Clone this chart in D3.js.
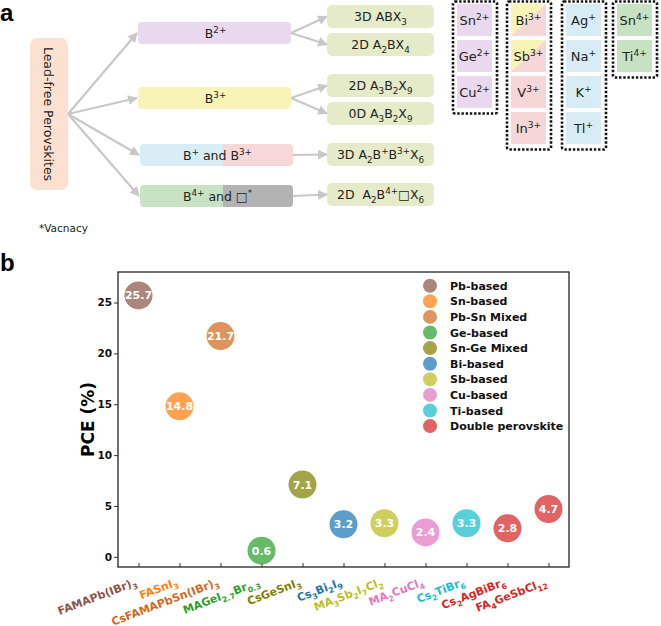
<!DOCTYPE html>
<html>
<head>
<meta charset="utf-8">
<script src="https://cdn.jsdelivr.net/npm/d3@7"></script>
<style>
  body { margin: 0; background: #fff; }
  svg { display: block; font-family: "DejaVu Sans", sans-serif; }
  text { white-space: pre; }
</style>
</head>
<body>
<svg id="fig" width="661" height="626"></svg>
<script>
// ---- panel a : classification of lead-free perovskites ----
const rootLabel = "Lead-free Perovskites";
const classNodes = ["B^{2+}", "B^{3+}", "B^{+} and B^{3+}", "B^{4+} and \u25A1^{*}"];
const structNodes = ["3D ABX_{3}", "2D A_{2}BX_{4}", "2D A_{3}B_{2}X_{9}", "0D A_{3}B_{2}X_{9}",
                     "3D A_{2}B^{+}B^{3+}X_{6}", "2D  A_{2}B^{4+}\u25A1X_{6}"];
const structParent = [0, 0, 1, 1, 2, 3];
const elementCols = [
  ["Sn^{2+}", "Ge^{2+}", "Cu^{2+}"],
  ["Bi^{3+}", "Sb^{3+}", "V^{3+}", "In^{3+}"],
  ["Ag^{+}", "Na^{+}", "K^{+}", "Tl^{+}"],
  ["Sn^{4+}", "Ti^{4+}"]
];
const footnote = "*Vacnacy";

// ---- panel b : PCE of lead-free perovskite solar cells ----
const materials = ["FAMAPb(IBr)_{3}", "FASnI_{3}", "CsFAMAPbSn(IBr)_{3}", "MAGeI_{2.7}Br_{0.3}", "CsGeSnI_{3}",
                   "Cs_{3}Bi_{2}I_{9}", "MA_{3}Sb_{2}I_{7}Cl_{2}", "MA_{2}CuCl_{4}", "Cs_{2}TiBr_{6}",
                   "Cs_{2}AgBiBr_{6}", "FA_{4}GeSbCl_{12}"];
const pce = [25.7, 14.8, 21.7, 0.6, 7.1, 3.2, 3.3, 2.4, 3.3, 2.8, 4.7];
const materialType = [0, 1, 2, 3, 4, 5, 6, 7, 8, 9, 9];
const types = ["Pb-based", "Sn-based", "Pb-Sn Mixed", "Ge-based", "Sn-Ge Mixed", "Bi-based",
               "Sb-based", "Cu-based", "Ti-based", "Double perovskite"];
const yTicks = [0, 5, 10, 15, 20, 25];

const typeColors = ["#8c564b", "#ff7f0e", "#d2691e", "#2ca02c", "#808000", "#1f77b4",
                    "#bcbd22", "#e377c2", "#17becf", "#d62728"];

const svg = d3.select("#fig");

// small markup: _{..} subscript, ^{..} superscript
function rich(sel, str, size) {
  const parts = str.split(/([_^]\{[^}]*\})/).filter(s => s.length);
  let shift = 0;
  parts.forEach(p => {
    const m = p.match(/^([_^])\{(.*)\}$/);
    const t = sel.append("tspan");
    if (m) {
      const target = m[1] == "_" ? size * 0.3 : -size * 0.42;
      t.attr("dy", target - shift).attr("font-size", size * 0.7).text(m[2]);
      shift = target;
    } else {
      t.attr("dy", -shift).text(p);
      shift = 0;
    }
  });
}

const defs = svg.append("defs");
defs.append("marker")
  .attr("id", "arr")
  .attr("viewBox", "0 0 10 10")
  .attr("refX", 9).attr("refY", 5)
  .attr("markerWidth", 4.5).attr("markerHeight", 4.5)
  .attr("orient", "auto")
  .append("path")
  .attr("d", "M0,0 L10,5 L0,10 z")
  .attr("fill", "#c8c8c8");

// panel letters
svg.append("text").attr("x", 0).attr("y", 21).attr("font-family", "Liberation Sans, Arial")
  .attr("font-weight", "bold").attr("font-size", 24).text("a");
svg.append("text").attr("x", 0).attr("y", 271).attr("font-family", "Liberation Sans, Arial")
  .attr("font-weight", "bold").attr("font-size", 24).text("b");

// ---------------- panel a ----------------
const pa = svg.append("g");
const root = { x: 30, y: 38, w: 38, h: 152 };
const classY = [22, 87, 144, 185];
const classX = [138, 138, 140, 140];
const classW = 153, classH = 22;
const classFill = [["#e8d9ef"], ["#f8f4b6"], ["#d9edf7", "#f7d7d8"], ["#c8e3c4", "#b3b3b3"]];
const structY = [5, 33, 74, 102, 143, 183];
const structX = 327, structW = 107, structH = 23;
const arrowStyle = g => g.attr("stroke", "#c8c8c8").attr("stroke-width", 2.2)
  .attr("fill", "none").attr("marker-end", "url(#arr)");

// arrows root -> classes
classNodes.forEach((c, i) => {
  pa.append("line")
    .attr("x1", root.x + root.w).attr("y1", root.y + root.h / 2)
    .attr("x2", classX[i] - 1).attr("y2", classY[i] + classH / 2)
    .call(arrowStyle);
});
// arrows classes -> structures
structNodes.forEach((s, i) => {
  const p = structParent[i];
  pa.append("line")
    .attr("x1", classX[p] + classW).attr("y1", classY[p] + classH / 2)
    .attr("x2", structX).attr("y2", structY[i] + structH / 2)
    .call(arrowStyle);
});

pa.append("rect").attr("x", root.x).attr("y", root.y).attr("width", root.w).attr("height", root.h)
  .attr("rx", 7).attr("fill", "#fde1d0");
pa.append("text")
  .attr("transform", `translate(${root.x + root.w / 2 - 5},${root.y + root.h / 2}) rotate(90)`)
  .attr("text-anchor", "middle").attr("font-size", 12.5).attr("fill", "#222")
  .text(rootLabel);

classNodes.forEach((c, i) => {
  const fills = classFill[i];
  const g = pa.append("g");
  const clipId = "cl" + i;
  defs.append("clipPath").attr("id", clipId).append("rect")
    .attr("x", classX[i]).attr("y", classY[i]).attr("width", classW).attr("height", classH).attr("rx", 4);
  fills.forEach((f, k) => {
    g.append("rect")
      .attr("clip-path", `url(#${clipId})`)
      .attr("x", classX[i] + k * 83).attr("y", classY[i])
      .attr("width", fills.length == 1 ? classW : (k == 0 ? 83 : classW - 83)).attr("height", classH)
      .attr("fill", f);
  });
  g.append("text").attr("x", classX[i] + classW / 2 + 1).attr("y", classY[i] + classH / 2 + 5)
    .attr("text-anchor", "middle").attr("font-size", 12.5).attr("fill", "#222")
    .call(t => rich(t, c, 12.5));
});

structNodes.forEach((s, i) => {
  pa.append("rect").attr("x", structX).attr("y", structY[i]).attr("width", structW).attr("height", structH)
    .attr("rx", 5).attr("fill", "#e5ebc9");
  pa.append("text").attr("x", structX + structW / 2).attr("y", structY[i] + structH / 2 + 4.5)
    .attr("text-anchor", "middle").attr("font-size", 12.5).attr("fill", "#222")
    .call(t => rich(t, s, 12.5));
});

pa.append("text").attr("x", 39).attr("y", 232).attr("font-size", 10.5).attr("fill", "#222").text(footnote);

// element columns
const colX = [452, 506, 561, 612];
const colFill = ["#e8d9ef", "#f7d6d7", "#d8ecf6", "#c7e2c3"];
const cellW = 35, cellH = 32, cellStep = 36;
elementCols.forEach((col, j) => {
  const gx = colX[j];
  pa.append("rect").attr("x", gx + 1).attr("y", 1.5)
    .attr("width", 44).attr("height", col.length * cellStep + 4)
    .attr("rx", 2).attr("fill", "none").attr("stroke", "#111")
    .attr("stroke-width", 2.6).attr("stroke-dasharray", "2.4,1.8");
  col.forEach((el, k) => {
    const cx = gx + 5, cy = 4 + k * cellStep;
    pa.append("rect").attr("x", cx).attr("y", cy).attr("width", cellW).attr("height", cellH)
      .attr("fill", colFill[j]);
    if (j == 1 && k < 2) {
      // Bi and Sb are shared with the B3+ / double-perovskite group
      pa.append("path")
        .attr("d", `M${cx},${cy} L${cx + cellW},${cy} L${cx},${cy + cellH} Z`)
        .attr("fill", "#f8f4b6");
    }
    pa.append("text").attr("x", cx + cellW / 2).attr("y", cy + cellH / 2 + 5)
      .attr("text-anchor", "middle").attr("font-size", 13).attr("fill", "#222")
      .call(t => rich(t, el, 13));
  });
});

// ---------------- panel b ----------------
const plotLeft = 118, plotRight = 569, plotTop = 272, plotBottom = 567;
const x = d3.scaleLinear([-0.5, materials.length - 0.5], [plotLeft, plotRight]);
const y = d3.scaleLinear([-1, 28], [plotBottom, plotTop]);
const pb = svg.append("g");

pb.append("g")
  .attr("transform", `translate(${plotLeft},0)`)
  .call(d3.axisLeft(y).tickValues(yTicks).tickSize(4).tickPadding(2))
  .call(g => g.select(".domain").remove())
  .call(g => g.selectAll("text").attr("font-size", 10.5).attr("font-weight", "bold")
    .attr("font-family", "DejaVu Sans").attr("fill", "#111"))
  .call(g => g.selectAll("line").attr("stroke", "#333"));

pb.append("g")
  .attr("transform", `translate(0,${plotBottom})`)
  .call(d3.axisBottom(x).tickValues(d3.range(materials.length)).tickSize(-4).tickFormat(""))
  .call(g => g.select(".domain").remove())
  .call(g => g.selectAll("line").attr("stroke", "#333"));

pb.append("rect").attr("x", plotLeft).attr("y", plotTop)
  .attr("width", plotRight - plotLeft).attr("height", plotBottom - plotTop)
  .attr("fill", "none").attr("stroke", "#222").attr("stroke-width", 1.3);

pb.append("text")
  .attr("transform", `translate(94,${(plotTop + plotBottom) / 2}) rotate(-90)`)
  .attr("text-anchor", "middle").attr("font-size", 17).attr("font-weight", "bold")
  .text("PCE (%)");

// x labels
materials.forEach((m, i) => {
  pb.append("text")
    .attr("transform", `translate(${x(i) - 1},${plotBottom + 18}) rotate(-21)`)
    .attr("text-anchor", "end").attr("font-size", 11).attr("font-weight", "bold")
    .attr("fill", typeColors[materialType[i]])
    .call(t => rich(t, m, 11));
});

// bubbles
const dots = pb.append("g").selectAll("g").data(pce).join("g")
  .attr("transform", (d, i) => `translate(${x(i)},${y(d)})`);
dots.append("circle").attr("r", 14)
  .attr("fill", (d, i) => typeColors[materialType[i]]).attr("fill-opacity", 0.72);
dots.append("text").attr("text-anchor", "middle").attr("dy", 4)
  .attr("font-size", 11).attr("font-weight", "bold").attr("fill", "#fff")
  .text(d => d.toFixed(1));

// legend
const leg = pb.append("g").selectAll("g").data(types).join("g")
  .attr("transform", (d, i) => `translate(430,${285.7 + i * 15.6})`);
leg.append("circle").attr("r", 7)
  .attr("fill", (d, i) => typeColors[i]).attr("fill-opacity", 0.72);
leg.append("text").attr("x", 20).attr("y", 4)
  .attr("font-size", 11).attr("font-weight", "bold").attr("fill", "#111")
  .text(d => d);
</script>
</body>
</html>
